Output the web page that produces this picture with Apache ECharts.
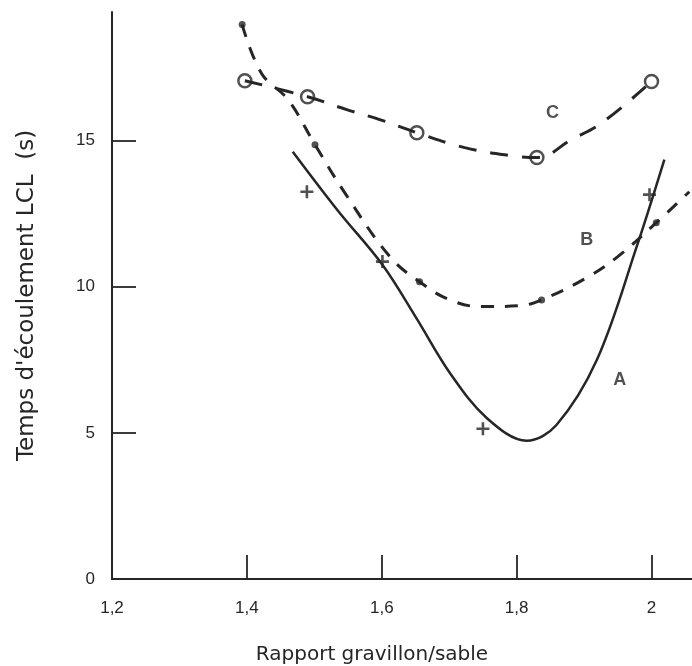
<!DOCTYPE html>
<html>
<head>
<meta charset="utf-8">
<script src="https://cdn.jsdelivr.net/npm/echarts@6/dist/echarts.min.js"></script>
<style>
  html, body { margin: 0; padding: 0; background: #fff; }
  #main { width: 692px; height: 666px; }
</style>
</head>
<body>
<div id="main"></div>
<script>
// valeurs (rapport gravillon/sable, temps en s)
var xLabels = [1.2, 1.4, 1.6, 1.8, 2.0];
var xTicks = [1.4, 1.6, 1.8, 2.0];
var yTicks = [5, 10, 15];
var yLabels = [0, 5, 10, 15];

// courbe A (trait plein, croix)
var curveA = [[1.468, 14.62], [1.535, 12.60], [1.601, 10.75], [1.652, 8.90], [1.701, 7.05],
  [1.756, 5.50], [1.815, 4.73], [1.859, 5.27], [1.919, 7.50], [1.978, 11.37], [2.019, 14.35]];
var pointsA = [[1.489, 13.25], [1.601, 10.86], [1.750, 5.14], [1.997, 13.15]];

// courbe B (tirets, points pleins)
var curveB = [[1.393, 18.97], [1.422, 17.29], [1.461, 16.40], [1.501, 14.86], [1.545, 13.22],
  [1.612, 11.03], [1.656, 10.17], [1.701, 9.55], [1.748, 9.32], [1.804, 9.35], [1.837, 9.55],
  [1.901, 10.27], [1.950, 11.03], [2.007, 12.19], [2.056, 13.25]];
var pointsB = [[1.393, 18.97], [1.501, 14.86], [1.656, 10.17], [1.837, 9.55], [2.007, 12.19]];

// courbe C (tirets longs, cercles vides)
var curveC = [[1.397, 17.05], [1.490, 16.50], [1.548, 16.06], [1.597, 15.72], [1.652, 15.27],
  [1.723, 14.76], [1.790, 14.49], [1.830, 14.42], [1.881, 15.03], [1.927, 15.62], [2.000, 17.02]];
var pointsC = [[1.397, 17.05], [1.490, 16.50], [1.652, 15.27], [1.830, 14.42], [2.000, 17.02]];

var curveLabels = [[1.953, 6.8, 'A'], [1.904, 11.6, 'B'], [1.853, 15.96, 'C']];

var ink = '#262626';
var plus = 'path://M4,0 L6,0 L6,4 L10,4 L10,6 L6,6 L6,10 L4,10 L4,6 L0,6 L0,4 L4,4 Z';

var myChart = echarts.init(document.getElementById('main'));
var option = {
  backgroundColor: '#fff',
  animation: false,
  grid: { left: 112, right: 0, top: 12, bottom: 87, containLabel: false },
  xAxis: {
    type: 'value',
    min: 1.2,
    max: 2.06,
    interval: 0.2,
    splitLine: { show: false },
    axisLine: { lineStyle: { color: ink, width: 2 } },
    axisTick: { inside: true, length: 24, customValues: xTicks, lineStyle: { color: ink, width: 1.8 } },
    axisLabel: {
      customValues: xLabels,
      margin: 21,
      color: ink,
      fontSize: 17,
      fontFamily: 'Liberation Sans',
      formatter: function (v) { return String(+v.toFixed(1)).replace('.', ','); }
    }
  },
  yAxis: {
    type: 'value',
    min: 0,
    max: 19.4,
    interval: 5,
    splitLine: { show: false },
    axisLine: { lineStyle: { color: ink, width: 2 } },
    axisTick: { inside: true, length: 24, customValues: yTicks, lineStyle: { color: ink, width: 1.8 } },
    axisLabel: { customValues: yLabels, margin: 17, color: ink, fontSize: 17, fontFamily: 'Liberation Sans' },
    name: "Temps d'écoulement LCL  (s)",
    nameLocation: 'middle',
    nameRotate: 90,
    nameGap: 73,
    nameTextStyle: { color: ink, fontSize: 23, fontFamily: 'DejaVu Sans' }
  },
  graphic: [{
    type: 'text',
    x: 372,
    y: 655,
    style: {
      text: 'Rapport gravillon/sable', fill: ink, fontSize: 20, fontFamily: 'DejaVu Sans',
      align: 'center', verticalAlign: 'middle'
    }
  }],
  series: [
    {
      name: 'A', type: 'line', data: curveA, smooth: 0.35, showSymbol: false,
      lineStyle: { color: ink, width: 2.5 }
    },
    {
      name: 'A pts', type: 'scatter', data: pointsA, symbol: plus, symbolSize: 13,
      itemStyle: { color: ink }
    },
    {
      name: 'B', type: 'line', data: curveB, smooth: 0.4, showSymbol: false,
      lineStyle: { color: ink, width: 3, type: [13, 11] }
    },
    {
      name: 'B pts', type: 'scatter', data: pointsB, symbol: 'circle', symbolSize: 7,
      itemStyle: { color: ink }
    },
    {
      name: 'C', type: 'line', data: curveC, smooth: 0.4, showSymbol: false,
      lineStyle: { color: ink, width: 3, type: [18, 14] }
    },
    {
      name: 'C pts', type: 'scatter', data: pointsC, symbol: 'circle', symbolSize: 13,
      itemStyle: { color: '#fff', borderColor: ink, borderWidth: 2.5 }
    },
    {
      name: 'labels', type: 'scatter', data: curveLabels, symbolSize: 0,
      label: {
        show: true, position: 'inside', color: ink, fontSize: 18, fontWeight: 'bold',
        fontFamily: 'Liberation Sans',
        formatter: function (p) { return p.value[2]; }
      }
    }
  ]
};
myChart.setOption(option);
</script>
</body>
</html>
